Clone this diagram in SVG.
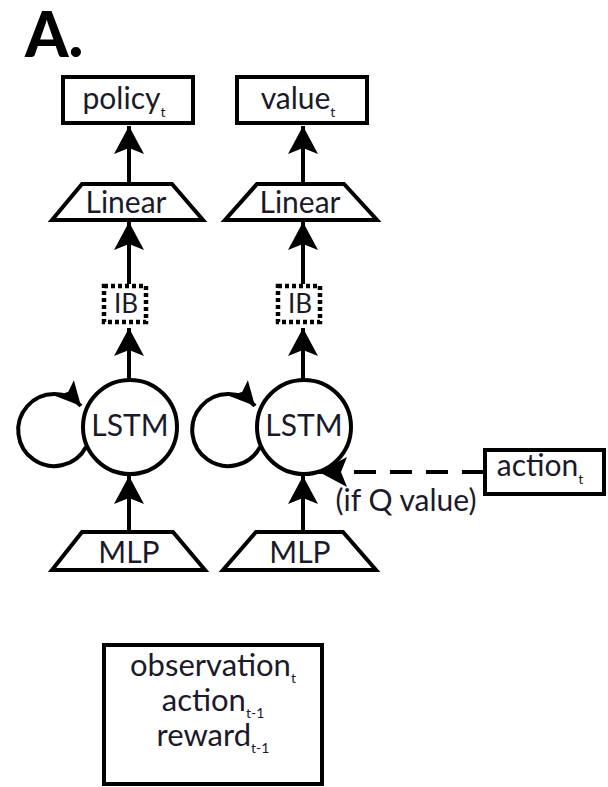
<svg xmlns="http://www.w3.org/2000/svg" width="608" height="787" viewBox="0 0 608 787">
  <style>
    .box { fill: #fff; stroke: #000; stroke-width: 4; }
    .trap { fill: #fff; stroke: #000; stroke-width: 4; stroke-linejoin: miter; }
    .circ { fill: #fff; stroke: #000; stroke-width: 4; }
    .ib { fill: none; stroke: #000; stroke-width: 4.5; stroke-dasharray: 4 3; }
    .lbl { font-family: Lato, "Open Sans", "Liberation Sans", sans-serif; font-size: 30px; fill: #1a1a2a; text-anchor: middle; }
    .sub { font-size: 14px; }
    .edge { fill: none; stroke: #000; stroke-width: 4; }
    .dash { stroke-dasharray: 22 14; }
    .title { font-family: Lato, "Liberation Sans", sans-serif; font-weight: 900; font-size: 62px; fill: #000; }
  </style>
  <defs>
    <marker id="arrow" viewBox="-2 -16 32 32" refX="28" refY="0" markerUnits="userSpaceOnUse" markerWidth="32" markerHeight="32" orient="auto">
      <path d="M28,0 L0,-15 L6,0 L0,15 Z" fill="#000"/>
    </marker>
    <marker id="arrowSmall" viewBox="-2 -13 28 26" refX="24" refY="0" markerUnits="userSpaceOnUse" markerWidth="28" markerHeight="26" orient="auto">
      <path d="M24,0 L0,-12 L5,0 L0,12 Z" fill="#000"/>
    </marker>
  </defs>

  <text class="title" x="25" y="57">A.</text>

  <!-- connectors -->
  <g id="connectors">
    <!-- policy column -->
    <line class="edge" x1="129" y1="183" x2="129" y2="126" marker-end="url(#arrow)"/>
    <line class="edge" x1="129" y1="284" x2="129" y2="222" marker-end="url(#arrow)"/>
    <line class="edge" x1="129" y1="380" x2="129" y2="328" marker-end="url(#arrow)"/>
    <line class="edge" x1="129" y1="531" x2="129" y2="476" marker-end="url(#arrow)"/>
    <path class="edge" d="M86,447 A36,36 0 1 1 81,406" marker-end="url(#arrowSmall)"/>
    <!-- value column -->
    <line class="edge" x1="303" y1="183" x2="303" y2="126" marker-end="url(#arrow)"/>
    <line class="edge" x1="303" y1="284" x2="303" y2="222" marker-end="url(#arrow)"/>
    <line class="edge" x1="303" y1="380" x2="303" y2="328" marker-end="url(#arrow)"/>
    <line class="edge" x1="303" y1="531" x2="303" y2="476" marker-end="url(#arrow)"/>
    <path class="edge" d="M260,447 A36,36 0 1 1 255,406" marker-end="url(#arrowSmall)"/>
    <!-- optional action input to the value LSTM -->
    <line class="edge dash" x1="484" y1="472" x2="319" y2="472" marker-end="url(#arrow)"/>
  </g>

  <g id="policy">
    <rect class="box" x="63" y="77" width="130" height="46"/>
    <text class="lbl" x="124" y="109">policy<tspan class="sub" dy="8">t</tspan></text>
  </g>
  <g id="value">
    <rect class="box" x="237" y="77" width="130" height="46"/>
    <text class="lbl" x="298" y="109">value<tspan class="sub" dy="8">t</tspan></text>
  </g>

  <g id="linear-policy">
    <polygon class="trap" points="82,184 172,184 203,220 52,220"/>
    <text class="lbl" x="126" y="213">Linear</text>
  </g>
  <g id="linear-value">
    <polygon class="trap" points="257,184 344,184 377,220 225,220"/>
    <text class="lbl" x="300" y="213">Linear</text>
  </g>

  <g id="ib-policy">
    <rect class="ib" x="104" y="286" width="42" height="36"/>
    <text class="lbl" x="126" y="313" style="font-size:26px">IB</text>
  </g>
  <g id="ib-value">
    <rect class="ib" x="278" y="286" width="42" height="36"/>
    <text class="lbl" x="300" y="313" style="font-size:26px">IB</text>
  </g>

  <g id="lstm-policy">
    <circle class="circ" cx="130" cy="427" r="47"/>
    <text class="lbl" x="130" y="436">LSTM</text>
  </g>
  <g id="lstm-value">
    <circle class="circ" cx="304" cy="427" r="47"/>
    <text class="lbl" x="304" y="436">LSTM</text>
  </g>

  <g id="mlp-policy">
    <polygon class="trap" points="82,532 173,532 205,570 52,570"/>
    <text class="lbl" x="129" y="563">MLP</text>
  </g>
  <g id="mlp-value">
    <polygon class="trap" points="256,532 343,532 376,570 223,570"/>
    <text class="lbl" x="300" y="563">MLP</text>
  </g>

  <g id="action">
    <rect class="box" x="485" y="450" width="119" height="44"/>
    <text class="lbl" x="540" y="476">action<tspan class="sub" dy="8">t</tspan></text>
  </g>
  <text class="lbl" x="406" y="511" style="font-size:30px">(if Q value)</text>

  <g id="inputs">
    <rect class="box" x="104" y="645" width="218" height="139"/>
    <text class="lbl" x="213" y="676" style="font-size:31px">observation<tspan class="sub" dy="7">t</tspan></text>
    <text class="lbl" x="213" y="711" style="font-size:31px">action<tspan class="sub" dy="7">t-1</tspan></text>
    <text class="lbl" x="213" y="746" style="font-size:31px">reward<tspan class="sub" dy="7">t-1</tspan></text>
  </g>
</svg>
